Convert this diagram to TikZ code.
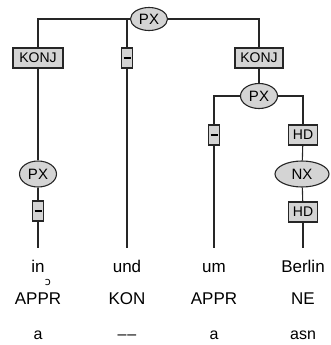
\documentclass[tikz,border=0pt]{standalone}
\usepackage{fontspec}
\setmainfont{Liberation Sans}
\newfontfamily\ipafont{DejaVu Sans}
\usetikzlibrary{shapes.geometric}
\begin{document}
\begin{tikzpicture}[x=1pt,y=-1pt,
  conn/.style={draw=black!85,line width=1.1pt},
  lblbox/.style={draw=black!85,line width=1.1pt,fill=black!17,rectangle,minimum height=20pt,inner xsep=3pt,inner ysep=0pt,font=\fontsize{14}{14}\selectfont},
  dashbox/.style={draw=black!85,line width=1.1pt,fill=black!17,rectangle,minimum height=20pt,minimum width=11pt,inner sep=0pt},
  cat/.style={draw=black!85,line width=1.1pt,fill=black!17,ellipse,inner sep=0pt,font=\fontsize{15}{15}\selectfont},
  word/.style={anchor=base,inner xsep=1pt,inner ysep=12pt,text height=12pt,text depth=3pt,font=\fontsize{17}{17}\selectfont},
  tag/.style={anchor=base,inner sep=1pt,font=\fontsize{17}{17}\selectfont},
  morph/.style={anchor=base,inner sep=1pt,font=\fontsize{16}{16}\selectfont}]
\useasboundingbox (0,0) rectangle (330,345);
% nodes
\node[cat,minimum width=37pt,minimum height=23pt] (root) at (149,19) {PX};
\node[lblbox,minimum width=50pt] (konj1) at (38,58) {KONJ};
\node[dashbox] (dash1) at (127,58) {\rule{7pt}{1.8pt}};
\node[lblbox,minimum width=48pt] (konj2) at (259,58) {KONJ};
\node[cat,minimum width=37pt,minimum height=25pt] (px3) at (259,96) {PX};
\node[cat,minimum width=37pt,minimum height=26pt] (px2) at (38,174) {PX};
\node[dashbox] (dash3) at (38,211) {\rule{7pt}{1.8pt}};
\node[dashbox] (dash4) at (214,135) {\rule{7pt}{1.8pt}};
\node[lblbox,minimum width=29pt] (hd1) at (303,135) {HD};
\node[cat,minimum width=54pt,minimum height=26pt] (nx) at (302,174) {NX};
\node[lblbox,minimum width=29pt] (hd2) at (303,212) {HD};
% words
\node[word] (w1) at (38,272) {in};
\node[word] (w2) at (127,272) {und};
\node[word] (w3) at (214,272) {um};
\node[word] (w4) at (303,272) {Berlin};
\node[inner sep=0pt,font=\ipafont\fontsize{11}{11}\selectfont] (mark) at (48,282) {ɔ};
% tags
\node[tag] (t1) at (38,304) {APPR};
\node[tag] (t2) at (127,304) {KON};
\node[tag] (t3) at (214,304) {APPR};
\node[tag] (t4) at (303,304) {NE};
% morph
\node[morph] (m1) at (38,339) {a};
\node[morph] (m2) at (127,339) {–\kern1pt–};
\node[morph] (m3) at (214,339) {a};
\node[morph] (m4) at (303,339) {asn};
% connectors
\draw[conn] (root.west) -| (konj1.north);
\draw[conn] (root.west) -| (dash1.north);
\draw[conn] (root.east) -| (konj2.north);
\draw[conn] (konj1) -- (px2);
\draw[conn] (px2) -- (dash3);
\draw[conn] (dash3) -- (w1);
\draw[conn] (dash1) -- (w2);
\draw[conn] (konj2) -- (px3);
\draw[conn] (px3.west) -| (dash4.north);
\draw[conn] (px3.east) -| (hd1.north);
\draw[conn] (dash4) -- (w3);
\draw[conn] (hd1) -- (nx);
\draw[conn] (nx) -- (hd2);
\draw[conn] (hd2) -- (w4);
\end{tikzpicture}
\end{document}
